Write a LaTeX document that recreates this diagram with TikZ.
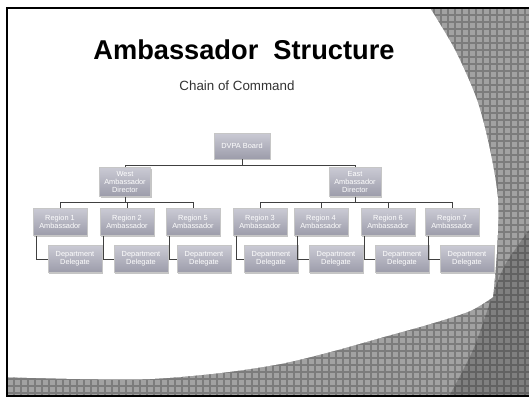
\documentclass[tikz,border=0pt]{standalone}
\usepackage{fontspec}
\setmainfont{Liberation Sans}
\usetikzlibrary{shadows}

\definecolor{patfill}{HTML}{A2A2A2}
\definecolor{patline}{HTML}{7C7C7C}
\definecolor{darkfill}{HTML}{808080}
\definecolor{darkline}{HTML}{626262}
\definecolor{boxtop}{HTML}{CACAD4}
\definecolor{boxbot}{HTML}{9C9CAA}

\begin{document}
\begin{tikzpicture}[x=0.02cm, y=0.02cm,
    box/.style={draw=gray!45, top color=boxtop, bottom color=boxbot, text=white,
      font=\fontsize{4.2}{4.8}\selectfont, align=center, inner sep=1pt,
      minimum width=1.08cm, minimum height=0.54cm,
      drop shadow={shadow xshift=0.7pt, shadow yshift=-0.7pt, opacity=0.45}},
    link/.style={draw=black!75, line width=0.5pt}]
    \useasboundingbox (0,0) rectangle (529,400);
    \fill[white] (0,0) rectangle (529,400);
    % slide background
    \begin{scope}
      \clip (7,4) rectangle (529,392);
      \fill[patfill] (0,0) rectangle (529,400);
      \draw[patline, line width=0.7pt, step=0.14cm] (0,0) grid (529,400);
      \begin{scope}
        \clip plot[smooth] coordinates {(529,170) (505,135) (492,103) (473,50) (447,0)}
          -- (529,0) -- cycle;
        \fill[darkfill] (0,0) rectangle (529,400);
        \draw[darkline, line width=0.7pt, step=0.14cm] (0,0) grid (529,400);
      \end{scope}
      \fill[white] (0,392) -- (430,392)
        -- plot[smooth] coordinates {(430,392) (455,350) (477,300) (490,250) (498,200) (497,150) (493,103)}
        -- plot[smooth] coordinates {(493,103) (470,89) (430,76) (380,62) (330,48) (280,36) (220,27) (150,21) (80,21) (0,23)}
        -- cycle;
    \end{scope}
    \draw[line width=1.1pt] (7,4) rectangle (540,392);

    \node (title) at (244,350) {\fontsize{15.5}{18}\selectfont\bfseries Ambassador\ \ Structure};
    \node[text=black!80] (subtitle) at (237,314) {\fontsize{7.6}{10}\selectfont Chain of Command};

    % chart
    \node[box, minimum width=1.12cm, minimum height=0.52cm] (board) at (242,254) {DVPA Board};
    \node[box, minimum width=1.02cm, minimum height=0.58cm] (west) at (125,218) {West\\Ambassador\\Director};
    \node[box, minimum width=1.04cm, minimum height=0.58cm] (east) at (355,218) {East\\Ambassador\\Director};

    \node[box] (r1) at (60,178) {Region 1\\Ambassador};
    \node[box] (r2) at (127,178) {Region 2\\Ambassador};
    \node[box] (r5) at (193,178) {Region 5\\Ambassador};
    \node[box] (r3) at (260,178) {Region 3\\Ambassador};
    \node[box] (r4) at (321,178) {Region 4\\Ambassador};
    \node[box] (r6) at (388,178) {Region 6\\Ambassador};
    \node[box] (r7) at (452,178) {Region 7\\Ambassador};

    \node[box] (d1) at (75,141) {Department\\Delegate};
    \node[box] (d2) at (141,141) {Department\\Delegate};
    \node[box] (d5) at (204,141) {Department\\Delegate};
    \node[box] (d3) at (271,141) {Department\\Delegate};
    \node[box] (d4) at (336,141) {Department\\Delegate};
    \node[box] (d6) at (402,141) {Department\\Delegate};
    \node[box] (d7) at (467,141) {Department\\Delegate};

    \draw[link] (board.south) -- +(0,-6) -| (west.north);
    \draw[link] (board.south) -- +(0,-6) -| (east.north);

    \draw[link] (west.south) -- +(0,-5.5) -| (r1.north);
    \draw[link] (west.south) -- +(0,-5.5) -| (r2.north);
    \draw[link] (west.south) -- +(0,-5.5) -| (r5.north);
    \draw[link] (east.south) -- +(0,-5.5) -| (r3.north);
    \draw[link] (east.south) -- +(0,-5.5) -| (r4.north);
    \draw[link] (east.south) -- +(0,-5.5) -| (r6.north);
    \draw[link] (east.south) -- +(0,-5.5) -| (r7.north);

    \draw[link] ([xshift=0.08cm]r1.south west) |- (d1.west);
    \draw[link] ([xshift=0.08cm]r2.south west) |- (d2.west);
    \draw[link] ([xshift=0.08cm]r5.south west) |- (d5.west);
    \draw[link] ([xshift=0.08cm]r3.south west) |- (d3.west);
    \draw[link] ([xshift=0.08cm]r4.south west) |- (d4.west);
    \draw[link] ([xshift=0.08cm]r6.south west) |- (d6.west);
    \draw[link] ([xshift=0.08cm]r7.south west) |- (d7.west);
\end{tikzpicture}
\end{document}
